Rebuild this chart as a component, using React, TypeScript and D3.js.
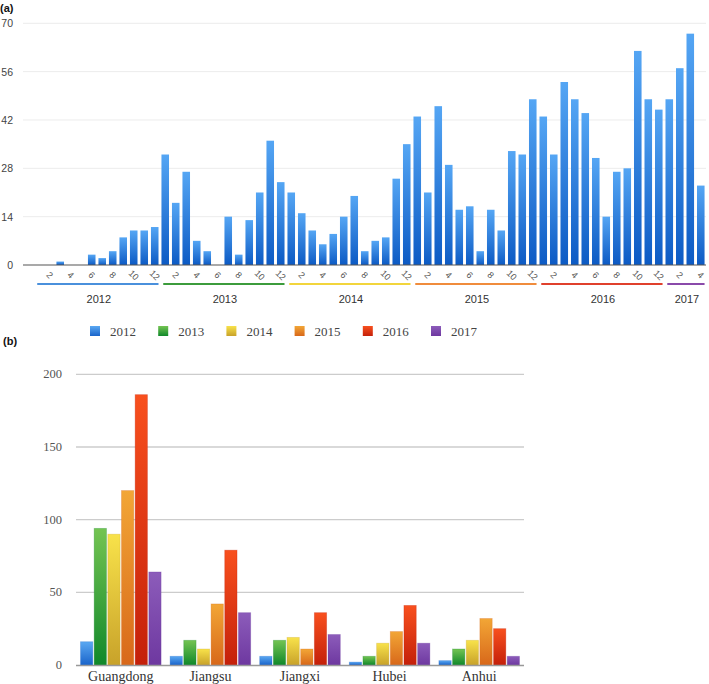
import React from "react";
import * as d3 from "d3";

const years = ["2012", "2013", "2014", "2015", "2016", "2017"];
const monthlyCounts = [
  0, 0, 1, 0, 0, 3, 2, 4, 8, 10, 10, 11,
  32, 18, 27, 7, 4, 0, 14, 3, 13, 21, 36, 24,
  21, 15, 10, 6, 9, 14, 20, 4, 7, 8, 25, 35,
  43, 21, 46, 29, 16, 17, 4, 16, 10, 33, 32, 48,
  43, 32, 53, 48, 44, 31, 14, 27, 28, 62, 48, 45,
  48, 57, 67, 23,
];
const monthsPerYear = [12, 12, 12, 12, 12, 4];
const topTicks = [0, 14, 28, 42, 56, 70];

const provinces = ["Guangdong", "Jiangsu", "Jiangxi", "Hubei", "Anhui"];
const s2012 = [16, 6, 6, 2, 3];
const s2013 = [94, 17, 17, 6, 11];
const s2014 = [90, 11, 19, 15, 17];
const s2015 = [120, 42, 11, 23, 32];
const s2016 = [186, 79, 36, 41, 25];
const s2017 = [64, 36, 21, 15, 6];
const bottomTicks = [0, 50, 100, 150, 200];

const yearLineColors = ["#4a90dc", "#3c9c3c", "#f2d53c", "#f08c3c", "#e0402c", "#8a4aaa"];
const gradTop = ["#5aa8f2", "#74c452", "#f8e24a", "#f2a636", "#f8501e", "#8c5cba"];
const gradBot = ["#1a64ca", "#10882a", "#c8a22a", "#d8681a", "#c4200a", "#6e38a0"];

export default function App() {
  const W = 709, H = 684;
  // top chart
  const n = monthlyCounts.length;
  const xTop = d3.scaleBand<number>().domain(d3.range(n)).range([32.5, 707.5]).padding(0.28);
  const yTop = d3.scaleLinear().domain([0, 70]).range([265, 23.3]);
  const bw = xTop.bandwidth();
  const monthLabels: { i: number; m: number }[] = [];
  let idx = 0;
  const yearSpans: { y: string; a: number; b: number }[] = [];
  monthsPerYear.forEach((cnt, yi) => {
    yearSpans.push({ y: years[yi], a: idx, b: idx + cnt - 1 });
    for (let m = 1; m <= cnt; m++) {
      if (m % 2 === 0) monthLabels.push({ i: idx + m - 1, m });
    }
    idx += cnt;
  });

  // bottom chart
  const x0 = d3.scaleBand<string>().domain(provinces).range([76, 524]).paddingInner(0.07).paddingOuter(0.035);
  const series = [s2012, s2013, s2014, s2015, s2016, s2017];
  const x1 = d3.scaleBand<number>().domain(d3.range(6)).range([0, x0.bandwidth()]).padding(0.1);
  const yBot = d3.scaleLinear().domain([0, 200]).range([665, 374.3]);

  return (
    <svg width={W} height={H} style={{ position: "absolute", left: 0, top: 0, background: "#fff" }}>
      <defs>
        <linearGradient id="gTop" x1="0" y1="0" x2="0" y2="1">
          <stop offset="0" stopColor="#55a6f4" />
          <stop offset="1" stopColor="#0c5ac4" />
        </linearGradient>
        {years.map((y, i) => (
          <linearGradient key={y} id={"g" + y} x1="0" y1="0" x2="0" y2="1">
            <stop offset="0" stopColor={gradTop[i]} />
            <stop offset="1" stopColor={gradBot[i]} />
          </linearGradient>
        ))}
      </defs>

      {/* (a) */}
      <text x={0} y={12} fontFamily="Liberation Sans, Arial, sans-serif" fontSize={11} fontWeight="bold" fill="#111">(a)</text>
      {topTicks.map((t) => (
        <g key={t}>
          {t > 0 && <line x1={23} x2={706} y1={yTop(t)} y2={yTop(t)} stroke="#ececec" strokeWidth={1} />}
          <text x={13} y={yTop(t) + 4} textAnchor="end" fontFamily="Liberation Sans, Arial, sans-serif" fontSize={10.5} fill="#444">{t}</text>
        </g>
      ))}
      {monthlyCounts.map((v, i) => (
        <rect key={i} x={xTop(i)} y={yTop(v)} width={bw} height={yTop(0) - yTop(v)} fill="url(#gTop)" />
      ))}
      <line x1={23} x2={706} y1={265} y2={265} stroke="#555" strokeWidth={1.2} />
      {monthLabels.map(({ i, m }) => {
        const cx = (xTop(i) as number) + bw / 2;
        return (
          <text key={i} transform={`translate(${cx},${275}) rotate(45)`} textAnchor="middle" dy="0.35em"
            fontFamily="Liberation Sans, Arial, sans-serif" fontSize={9} fill="#555">{m}</text>
        );
      })}
      {yearSpans.map((s, k) => {
        const a = (xTop(s.a) as number) + bw / 2 - 2;
        const b = (xTop(s.b) as number) + bw;
        return (
          <g key={s.y}>
            <line x1={a} x2={Math.min(b, 706)} y1={284} y2={284} stroke={yearLineColors[k]} strokeWidth={2} />
            <text x={(a + Math.min(b, 706)) / 2 + 1} y={303} textAnchor="middle" fontFamily="Liberation Sans, Arial, sans-serif" fontSize={11} fill="#333">{s.y}</text>
          </g>
        );
      })}

      {/* (b) */}
      <text x={3} y={345} fontFamily="Liberation Sans, Arial, sans-serif" fontSize={11} fontWeight="bold" fill="#111">(b)</text>
      {years.map((y, i) => (
        <g key={y} transform={`translate(${90 + i * 68.2},326)`}>
          <rect x={0} y={0} width={10} height={10} fill={`url(#g${y})`} />
          <text x={20} y={9.5} fontFamily="Liberation Serif, Times New Roman, serif" fontSize={13} fill="#444">{y}</text>
        </g>
      ))}
      {bottomTicks.map((t) => (
        <g key={t}>
          {t > 0 && <line x1={76} x2={524} y1={yBot(t)} y2={yBot(t)} stroke="#cccccc" strokeWidth={1.3} />}
          <text x={62} y={yBot(t) + 4} textAnchor="end" fontFamily="Liberation Serif, Times New Roman, serif" fontSize={12.5} fill="#555">{t}</text>
        </g>
      ))}
      {provinces.map((p, pi) => (
        <g key={p} transform={`translate(${x0(p)},0)`}>
          {series.map((s, si) => (
            <rect key={si} x={x1(si)} y={yBot(s[pi])} width={x1.bandwidth()} height={yBot(0) - yBot(s[pi])}
              fill={`url(#g${years[si]})`} stroke={gradBot[si]} strokeOpacity={0.35} strokeWidth={0.8} />
          ))}
          <text x={x0.bandwidth() / 2} y={681} textAnchor="middle" fontFamily="Liberation Serif, Times New Roman, serif" fontSize={14} fill="#333">{p}</text>
        </g>
      ))}
      <line x1={76} x2={524} y1={665.5} y2={665.5} stroke="#999" strokeWidth={1.6} />
    </svg>
  );
}
